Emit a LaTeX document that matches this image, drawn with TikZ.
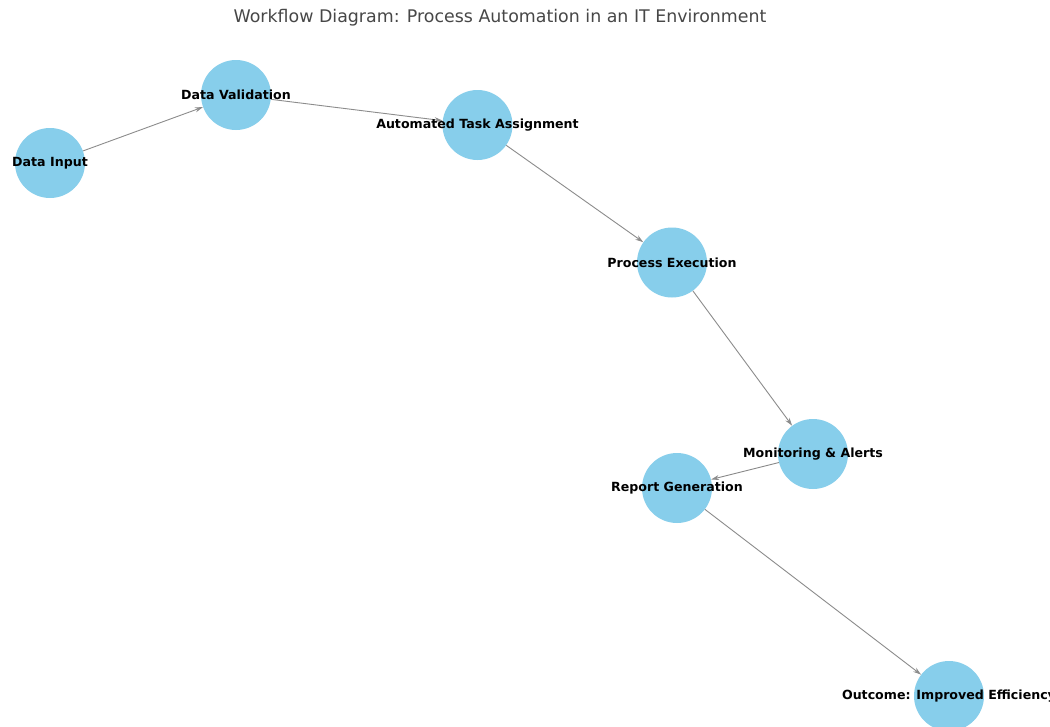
\documentclass[tikz,border=0pt]{standalone}
\usepackage{fontspec}
\setmainfont{DejaVu Sans}
\usetikzlibrary{arrows.meta}
\definecolor{skyblue}{HTML}{87CEEB}
\definecolor{edgegray}{HTML}{8C8C8C}
\tikzset{
  dot/.style={circle, fill=skyblue, draw=none, minimum size=70pt, inner sep=0pt},
  lbl/.style={font=\fontsize{12.6}{14}\selectfont\bfseries, text=black, inner sep=0pt},
  edge/.style={draw=edgegray, line width=0.9pt, -{Stealth[length=8pt,width=5pt]}},
  ttl/.style={font=\fontsize{17.4}{20}\selectfont, text=black!72, inner sep=0pt}
}
\begin{document}
\begin{tikzpicture}[x=1pt,y=-1pt]
\clip (0,0) rectangle (1050,726);
\fill[white] (0,0) rectangle (1050,726);
\node[ttl] (title) at (500,18) {Workflow Diagram: Process Automation in an IT Environment};
\node[dot] (di) at (50,163) {};
\node[dot] (dv) at (236,95) {};
\node[dot] (ata) at (477.5,125) {};
\node[dot] (pe) at (672,262.5) {};
\node[dot] (ma) at (813,454) {};
\node[dot] (rg) at (677,488) {};
\node[dot] (oc) at (949,696) {};
\path[edge] (di) -- (dv);
\path[edge] (dv) -- (ata);
\path[edge] (ata) -- (pe);
\path[edge] (pe) -- (ma);
\path[edge] (ma) -- (rg);
\path[edge] (rg) -- (oc);
\node[lbl] (l1) at (di) {Data Input};
\node[lbl] (l2) at (dv) {Data Validation};
\node[lbl] (l3) at (ata) {Automated Task Assignment};
\node[lbl] (l4) at (pe) {Process Execution};
\node[lbl] (l5) at (ma) {Monitoring \& Alerts};
\node[lbl] (l6) at (rg) {Report Generation};
\node[lbl] (l7) at (oc) {Outcome: Improved Efficiency};
\end{tikzpicture}
\end{document}
